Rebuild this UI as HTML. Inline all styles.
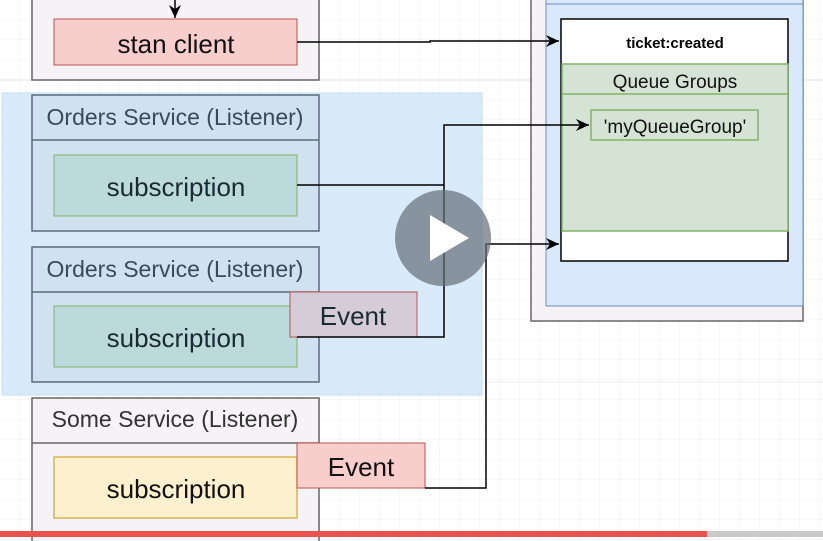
<!DOCTYPE html>
<html><head><style>
html,body{margin:0;padding:0;background:#fff;}
svg{display:block;}
text{font-family:"Liberation Sans",sans-serif;}
</style></head><body>
<svg width="823" height="541" viewBox="0 0 823 541" xmlns="http://www.w3.org/2000/svg">
<defs>
<pattern id="g" width="20" height="20" patternUnits="userSpaceOnUse"><path d="M20 0V20H0" fill="none" stroke="#f1f1f1" stroke-width="1"/></pattern>
<marker id="a" markerWidth="14" markerHeight="14" refX="13" refY="7" orient="auto" markerUnits="userSpaceOnUse"><path d="M0,1 L13,7 L0,13 L4,7 z" fill="#000"/></marker>
</defs>
<rect width="823" height="541" fill="url(#g)"/>
<line x1="0" y1="80" x2="823" y2="80" stroke="#ececec" stroke-width="1.5"/>
<line x1="0" y1="382" x2="823" y2="382" stroke="#ececec" stroke-width="1"/>

<!-- selection overlay -->
<rect x="2" y="93" width="480" height="302" fill="#d9eafa" stroke="#c5def5"/>

<!-- top box -->
<rect x="32" y="-2" width="287" height="82" fill="#f5f3f5" stroke="#666" stroke-width="1.5"/>
<line x1="175" y1="0" x2="175" y2="18" stroke="#000" stroke-width="1.5" marker-end="url(#a)"/>
<rect x="54" y="19" width="243" height="46" fill="#f8cecc" stroke="#b85450"/>
<text x="176" y="53" font-size="26" text-anchor="middle" fill="#111">stan client</text>

<!-- right -->
<rect x="531" y="-2" width="272" height="323" fill="#f5f3f5" stroke="#666" stroke-width="1.5"/>
<rect x="546" y="-2" width="257" height="308" fill="#dae8fc" stroke="#6c8ebf"/>
<line x1="546" y1="4" x2="803" y2="4" stroke="#6c8ebf"/>
<rect x="561" y="19" width="227" height="242" fill="#fff" stroke="#000" stroke-width="1.5"/>
<text x="675" y="48" font-size="15" font-weight="bold" text-anchor="middle">ticket:created</text>
<rect x="562" y="64" width="226" height="167" fill="#d5e3d4" stroke="#82b366" stroke-width="1.5"/>
<line x1="562" y1="94" x2="788" y2="94" stroke="#82b366" stroke-width="1.5"/>
<text x="675" y="88" font-size="19" text-anchor="middle" fill="#111">Queue Groups</text>
<rect x="591" y="110" width="167" height="30" fill="#d5e3d4" stroke="#82b366" stroke-width="1.5"/>
<text x="675" y="133" font-size="19" text-anchor="middle" fill="#111">'myQueueGroup'</text>

<!-- orders 1 -->
<rect x="32" y="95" width="287" height="136" fill="#d0e2f0" stroke="#5a6b7a" stroke-width="1.5"/>
<line x1="32" y1="140" x2="319" y2="140" stroke="#5a6b7a" stroke-width="1.5"/>
<text x="175" y="125" font-size="23" text-anchor="middle" fill="#3a4a58">Orders Service (Listener)</text>
<rect x="54" y="155" width="243" height="61" fill="#bcd9db" stroke="#82b366"/>
<text x="176" y="196" font-size="26" text-anchor="middle" fill="#1a2a33">subscription</text>

<!-- orders 2 -->
<rect x="32" y="247" width="287" height="135" fill="#d0e2f0" stroke="#5a6b7a" stroke-width="1.5"/>
<line x1="32" y1="292" x2="319" y2="292" stroke="#5a6b7a" stroke-width="1.5"/>
<text x="175" y="277" font-size="23" text-anchor="middle" fill="#3a4a58">Orders Service (Listener)</text>
<rect x="54" y="306" width="243" height="61" fill="#bcd9db" stroke="#82b366"/>
<text x="176" y="347" font-size="26" text-anchor="middle" fill="#1a2a33">subscription</text>
<rect x="290" y="292" width="127" height="45" fill="#d5ccd8" stroke="#b85450"/>
<text x="353" y="325" font-size="26" text-anchor="middle" fill="#1a2a33">Event</text>

<!-- connectors 1 -->
<polyline points="297,42 430,42 430,41 559,41" fill="none" stroke="#000" stroke-width="1.5" marker-end="url(#a)"/>
<polyline points="297,185 444,185" fill="none" stroke="#000" stroke-width="1.5"/>
<polyline points="297,337 444,337 444,125 589,125" fill="none" stroke="#000" stroke-width="1.5" marker-end="url(#a)"/>

<!-- some service -->
<rect x="32" y="398" width="287" height="150" fill="#f5f3f5" stroke="#666" stroke-width="1.5"/>
<line x1="32" y1="443" x2="319" y2="443" stroke="#666" stroke-width="1.5"/>
<text x="175" y="427" font-size="23" text-anchor="middle" fill="#333">Some Service (Listener)</text>
<rect x="54" y="457" width="243" height="61" fill="#fdf0cf" stroke="#d6b656" stroke-width="1.5"/>
<text x="176" y="498" font-size="26" text-anchor="middle" fill="#111">subscription</text>
<rect x="297" y="443" width="128" height="45" fill="#f8cecc" stroke="#b85450"/>
<text x="361" y="476" font-size="26" text-anchor="middle" fill="#111">Event</text>
<polyline points="425,488 486,488 486,244 559,244" fill="none" stroke="#000" stroke-width="1.5" marker-end="url(#a)"/>

<!-- play button -->
<circle cx="443" cy="238" r="48" fill="rgba(100,110,120,0.7)"/>
<polygon points="430,215 469,238 430,261" fill="#fff"/>

<!-- progress -->
<rect x="0" y="531" width="707" height="6" fill="#e9524f"/>
<rect x="707" y="531" width="116" height="6" fill="#c9c9c9"/>
</svg>
</body></html>
